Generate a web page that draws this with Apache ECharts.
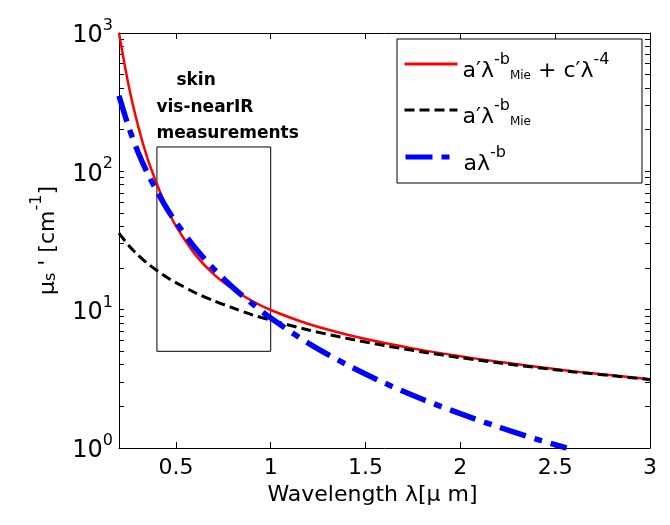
<!DOCTYPE html>
<html>
<head>
<meta charset="utf-8">
<script src="https://cdn.jsdelivr.net/npm/echarts@6/dist/echarts.min.js"></script>
<style>
  html, body { margin: 0; background: #fff; }
  #scatterChart { width: 670px; height: 525px; }
</style>
</head>
<body>
<div id="scatterChart"></div>
<script>
  // wavelength in um (cm^-1)
  const wavelength = [0.2, 0.25, 0.3, 0.35, 0.4, 0.45, 0.5, 0.6, 0.7, 0.8, 0.9, 1.0, 1.2, 1.4, 1.6, 1.8, 2.0, 2.2, 2.4, 2.6, 2.8, 3.0]
  const mieRayleigh = [1000, 423, 215, 124, 81, 55, 40.3, 25.2, 18.0, 14.1, 11.6, 9.94, 7.87, 6.61, 5.74, 5.10, 4.60, 4.20, 3.87, 3.58, 3.36, 3.14]
  const mieOnly = [35.8, 29.2, 24.8, 21.6, 19.2, 17.2, 15.7, 13.3, 11.6, 10.3, 9.2, 8.4, 7.13, 6.21, 5.50, 4.95, 4.50, 4.13, 3.82, 3.55, 3.33, 3.12]
  const powerLawX = [0.2, 0.25, 0.3, 0.35, 0.4, 0.45, 0.5, 0.6, 0.7, 0.8, 0.9, 1.0, 1.2, 1.4, 1.6, 1.8, 2.0, 2.2, 2.4, 2.56]
  const powerLaw = [352, 211, 138, 97, 72, 54.5, 42.8, 28.1, 19.7, 14.5, 11.1, 8.69, 5.71, 4.01, 2.95, 2.25, 1.77, 1.42, 1.16, 1.0]
  const xTicks = [0.5, 1, 1.5, 2, 2.5, 3]
  const yTicks = [1, 10, 100, 1000]
  const yMinorTicks = [2, 3, 4, 5, 6, 7, 8, 9, 20, 30, 40, 50, 60, 70, 80, 90, 200, 300, 400, 500, 600, 700, 800, 900]
  const skinBox = [[0.4, 150], [1.0, 5]]
  const skinText = ['skin', 'vis-nearIR', 'measurements']

  const font = 'DejaVu Sans'
  const pairs = (xs, ys) => xs.map((x, i) => [x, ys[i]])

  const legendNames = {
    mieRayleigh: '{n|a′λ}{sup|-b}{sub|Mie}{n| + c′λ}{sup|-4}',
    mieOnly: '{n|a′λ}{sup|-b}{sub|Mie}',
    powerLaw: '{n|aλ}{sup|-b}'
  }
  const richText = {
    n: {fontFamily: font, fontSize: 22, color: '#000', lineHeight: 30, verticalAlign: 'bottom'},
    sup: {fontFamily: font, fontSize: 16, color: '#000', lineHeight: 18, verticalAlign: 'top'},
    sub: {fontFamily: font, fontSize: 12, color: '#000', lineHeight: 14, verticalAlign: 'bottom'}
  }

  function legendAt(name, top, lineStyle) {
    return {
      data: [name],
      left: 403,
      top: top,
      padding: 0,
      itemWidth: 53,
      itemHeight: 14,
      itemGap: 0,
      selectedMode: false,
      lineStyle: lineStyle,
      // line series legend always adds a marker; keep it invisible
      itemStyle: {opacity: 0},
      formatter: n => legendNames[n],
      textStyle: {padding: [6, 0, 0, 0], rich: richText}
    }
  }

  const axisLine = {show: true, lineStyle: {color: '#000', width: 1}}

  const option = {
    animation: false,
    backgroundColor: '#fff',
    grid: {left: 119, right: 20, top: 33, bottom: 77},
    graphic: [{
      type: 'rect',
      z: 1,
      shape: {x: 397, y: 39, width: 245, height: 144},
      style: {fill: '#fff', stroke: '#000', lineWidth: 1}
    }],
    legend: [
      legendAt('mieRayleigh', 52, {width: 3}),
      legendAt('mieOnly', 98, {width: 3}),
      legendAt('powerLaw', 145, {width: 5})
    ],
    xAxis: [
      {
        type: 'value', min: 0.2, max: 3, position: 'bottom',
        axisLine: axisLine,
        axisTick: {inside: true, length: 6, customValues: xTicks, lineStyle: {color: '#000'}},
        axisLabel: {customValues: xTicks, margin: 9, color: '#000', fontFamily: font, fontSize: 22},
        splitLine: {show: false},
        name: 'Wavelength λ[μ m]',
        nameLocation: 'middle',
        nameGap: 36,
        nameTextStyle: {fontFamily: font, fontSize: 22, color: '#000', padding: [0, 24, 0, 0]}
      },
      {
        type: 'value', min: 0.2, max: 3, position: 'top',
        axisLine: axisLine,
        axisTick: {inside: true, length: 6, customValues: xTicks, lineStyle: {color: '#000'}},
        axisLabel: {show: false},
        splitLine: {show: false}
      }
    ],
    yAxis: [
      {
        type: 'log', logBase: 10, min: 1, max: 1000, position: 'left',
        axisLine: axisLine,
        axisTick: {inside: true, length: 5, customValues: yTicks.concat(yMinorTicks), lineStyle: {color: '#000'}},
        axisLabel: {
          customValues: yTicks,
          margin: 6,
          formatter: v => '{b|10}{s|' + Math.round(Math.log10(v)) + '}',
          rich: {
            b: {fontFamily: font, fontSize: 24, color: '#000', lineHeight: 30, verticalAlign: 'bottom'},
            s: {fontFamily: font, fontSize: 16, color: '#000', lineHeight: 18, verticalAlign: 'top'}
          }
        },
        splitLine: {show: false},
        name: '{n|μ}{sub|s}{n| \' [cm}{sup|-1}{n|]}',
        nameLocation: 'middle',
        nameGap: 60,
        nameRotate: 90,
        nameTextStyle: {rich: {
          n: {fontFamily: font, fontSize: 22, color: '#000', lineHeight: 30, verticalAlign: 'bottom'},
          sub: {fontFamily: font, fontSize: 16, color: '#000', lineHeight: 20, verticalAlign: 'bottom'},
          sup: {fontFamily: font, fontSize: 16, color: '#000', lineHeight: 18, verticalAlign: 'top'}
        }}
      },
      {
        type: 'log', logBase: 10, min: 1, max: 1000, position: 'right',
        axisLine: axisLine,
        axisTick: {inside: true, length: 5, customValues: yTicks.concat(yMinorTicks), lineStyle: {color: '#000'}},
        axisLabel: {show: false},
        splitLine: {show: false}
      }
    ],
    series: [
      {
        name: 'mieRayleigh',
        type: 'line',
        symbol: 'none',
        smooth: 0.3,
        data: pairs(wavelength, mieRayleigh),
        lineStyle: {color: '#ff0000', width: 2.5},
        itemStyle: {color: '#ff0000'}
      },
      {
        name: 'mieOnly',
        type: 'line',
        symbol: 'none',
        smooth: 0.3,
        data: pairs(wavelength, mieOnly),
        lineStyle: {color: '#000', width: 3, type: [10, 5]},
        itemStyle: {color: '#000'},
        markArea: {
          silent: true,
          itemStyle: {color: 'rgba(0,0,0,0)', borderColor: '#000', borderWidth: 1},
          label: {
            show: true,
            position: [0, -80],
            align: 'left',
            verticalAlign: 'top',
            formatter: '{a|' + skinText[0] + '}\n{b|' + skinText[1] + '}\n{b|' + skinText[2] + '}',
            rich: {
              a: {fontFamily: font, fontWeight: 'bold', fontSize: 17, color: '#000', lineHeight: 28, padding: [0, 0, 0, 20]},
              b: {fontFamily: font, fontWeight: 'bold', fontSize: 17, color: '#000', lineHeight: 26}
            }
          },
          data: [[{coord: skinBox[0]}, {coord: skinBox[1]}]]
        }
      },
      {
        name: 'powerLaw',
        type: 'line',
        symbol: 'none',
        smooth: 0.3,
        data: pairs(powerLawX, powerLaw),
        lineStyle: {color: '#0000ff', width: 5.5, type: [27, 9, 8, 9]},
        itemStyle: {color: '#0000ff'}
      }
    ]
  }

  const chart = echarts.init(document.getElementById('scatterChart'))
  chart.setOption(option)
</script>
</body>
</html>
